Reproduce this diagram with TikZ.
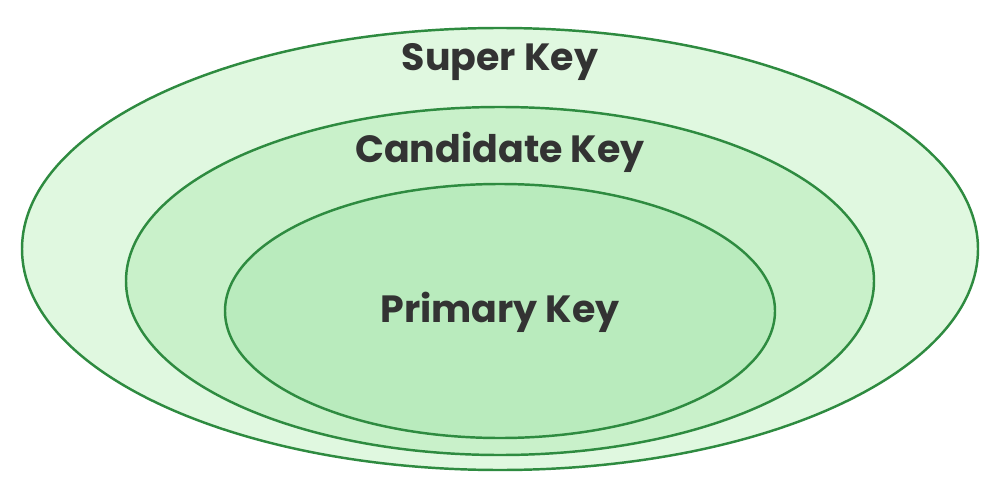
\documentclass[tikz,border=0pt]{standalone}
\usepackage{fontspec}
\setmainfont{Poppins}[BoldFont={* Bold}]
\definecolor{ring}{HTML}{2E8B40}
\definecolor{fillA}{HTML}{E0F8E0}
\definecolor{fillB}{HTML}{C9F1CA}
\definecolor{fillC}{HTML}{B9EBBD}
\definecolor{txt}{HTML}{333333}
\begin{document}
\begin{tikzpicture}[x=0.02cm,y=-0.02cm,
  ring/.style={draw=ring,line width=1.4pt},
  lbl/.style={text=txt,font=\bfseries\fontsize{21.6}{26}\selectfont,inner sep=0pt}]
\useasboundingbox (0,0) rectangle (1000,500);
\fill[white] (0,0) rectangle (1000,500);
\draw[ring,fill=fillA] (500,249) ellipse [x radius=478,y radius=221];
\draw[ring,fill=fillB] (500,281) ellipse [x radius=374,y radius=174];
\draw[ring,fill=fillC] (500,311) ellipse [x radius=275,y radius=127];
\node[lbl] (super) at (500,62) {Super Key};
\node[lbl] (cand) at (500,152) {Candidate Key};
\node[lbl] (prim) at (500,312) {Primary Key};
\end{tikzpicture}
\end{document}
